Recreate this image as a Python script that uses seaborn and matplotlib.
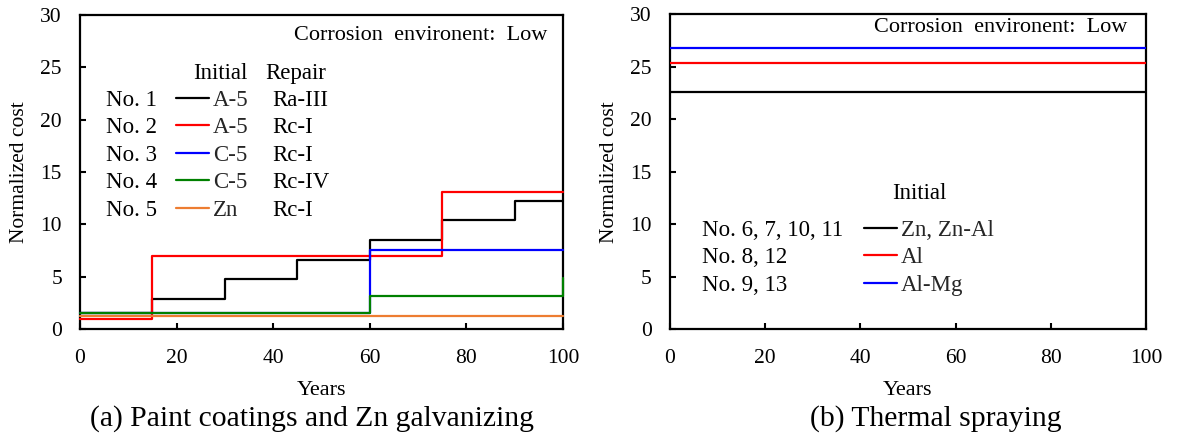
import numpy as np
import pandas as pd
import matplotlib
matplotlib.use("Agg")
import matplotlib.pyplot as plt
import seaborn as sns

# ---------------- data ----------------
# (a) Paint coatings and Zn galvanizing : step costs (value holds until next year)
a_cases = ["No. 1", "No. 2", "No. 3", "No. 4", "No. 5"]
a_initial = ["A-5", "A-5", "C-5", "C-5", "Zn"]
a_repair = ["Ra-III", "Rc-I", "Rc-I", "Rc-IV", "Rc-I"]
a_colors = ["black", "#ff0000", "#0000ff", "#008000", "#ed7d31"]

no1_years = [0, 15, 30, 45, 60, 75, 90, 100]
no1_cost = [1.5, 2.9, 4.75, 6.6, 8.55, 10.4, 12.25, 12.25]
no2_years = [0, 15, 75, 100]
no2_cost = [1.0, 7.0, 13.05, 13.05]
no3_years = [0, 60, 100]
no3_cost = [1.5, 7.55, 7.55]
no4_years = [0, 60, 100]
no4_cost = [1.5, 3.2, 4.9]
no5_years = [0, 100]
no5_cost = [1.2, 1.2]
a_years = [no1_years, no2_years, no3_years, no4_years, no5_years]
a_costs = [no1_cost, no2_cost, no3_cost, no4_cost, no5_cost]

# (b) Thermal spraying
b_cases = ["No. 6, 7, 10, 11", "No. 8, 12", "No. 9, 13"]
b_initial = ["Zn, Zn-Al", "Al", "Al-Mg"]
b_colors = ["black", "#ff0000", "#0000ff"]
b_years = [0, 100]
b_costs = [[22.6, 22.6], [25.3, 25.3], [26.75, 26.75]]

x_ticks = [0, 20, 40, 60, 80, 100]
y_ticks = [0, 5, 10, 15, 20, 25, 30]
env_label = "Corrosion  environent:  Low"

# ---------------- style ----------------
sns.set_theme(style="white")
plt.rcParams["font.family"] = ["Liberation Serif", "DejaVu Serif"]
plt.rcParams["axes.linewidth"] = 1.6
plt.rcParams["axes.edgecolor"] = "black"

fig = plt.figure(figsize=(11.77, 4.37), dpi=100)
axA = fig.add_axes([0.068, 0.2471, 0.4104, 0.7185])
axB = fig.add_axes([0.5692, 0.2465, 0.4044, 0.7215])

TICK_FS = 15.5
XLAB_FS = 16
YLAB_FS = 15.5
LEG_FS = 16.5
ENV_FS = 16
CAP_FS = 21.3

for ax in (axA, axB):
    ax.set_xlim(0, 100)
    ax.set_ylim(0, 30)
    ax.set_xticks(x_ticks)
    ax.set_yticks(y_ticks)
    ax.tick_params(axis="both", direction="in", length=4.5, width=1.5,
                   labelsize=TICK_FS, pad=13, colors="black",
                   top=False, right=False, bottom=True, left=True)
    ax.tick_params(axis="x", pad=14.5)
    for s in ax.spines.values():
        s.set_visible(True)
        s.set_color("black")
        s.set_linewidth(1.6)
    ax.set_facecolor("white")

# ---- panel (a)
handlesA = []
for yrs, cst, col, lab in zip(a_years, a_costs, a_colors, a_initial):
    df = pd.DataFrame({"Years": yrs, "cost": cst})
    sns.lineplot(data=df, x="Years", y="cost", ax=axA, color=col, lw=1.6,
                 drawstyle="steps-post", estimator=None, sort=False,
                 clip_on=False, zorder=3)
    handlesA.append(axA.lines[-1])

# ---- panel (b)
handlesB = []
for cst, col, lab in zip(b_costs, b_colors, b_initial):
    df = pd.DataFrame({"Years": b_years, "cost": cst})
    sns.lineplot(data=df, x="Years", y="cost", ax=axB, color=col, lw=1.6,
                 estimator=None, sort=False, zorder=3)
    handlesB.append(axB.lines[-1])

for ax in (axA, axB):
    if ax.get_legend() is not None:
        ax.get_legend().remove()
    ax.set_xlabel("Years", fontsize=XLAB_FS, color="black")
    ax.set_ylabel("Normalized cost", fontsize=YLAB_FS, color="black")
    ax.xaxis.set_label_coords(0.5, -0.165)
    ax.yaxis.set_label_coords(-0.126, 0.5)
    ax.yaxis.label.set_va("center")

legA = axA.legend(handlesA, a_initial, loc="upper left",
                  bbox_to_anchor=(0.199, 0.762), frameon=False, fontsize=LEG_FS,
                  handlelength=1.45, handletextpad=0.15, labelspacing=0.28,
                  borderpad=0, borderaxespad=0)
legB = axB.legend(handlesB, b_initial, loc="upper left",
                  bbox_to_anchor=(0.408, 0.347), frameon=False, fontsize=LEG_FS,
                  handlelength=1.45, handletextpad=0.15, labelspacing=0.28,
                  borderpad=0, borderaxespad=0)

axA.text(0.967, 0.936, env_label, transform=axA.transAxes, ha="right",
         va="center", fontsize=ENV_FS, color="black")
axB.text(0.960, 0.956, env_label, transform=axB.transAxes, ha="right",
         va="center", fontsize=ENV_FS, color="black")

axA.text(0.234, 0.815, "Initial", transform=axA.transAxes, ha="left",
         va="center", fontsize=LEG_FS, color="black")
axA.text(0.383, 0.815, "Repair", transform=axA.transAxes, ha="left",
         va="center", fontsize=LEG_FS, color="black")
axB.text(0.466, 0.432, "Initial", transform=axB.transAxes, ha="left",
         va="center", fontsize=LEG_FS, color="black")

# align row texts with legend rows
fig.canvas.draw()
renderer = fig.canvas.get_renderer()


def row_texts(ax, leg, left_labels, left_x, right_labels=None, right_x=None):
    inv = ax.transAxes.inverted()
    for i, t in enumerate(leg.get_texts()):
        bb = t.get_window_extent(renderer)
        _, y0 = inv.transform((bb.x0, bb.y0))
        ax.text(left_x, y0, left_labels[i], transform=ax.transAxes,
                ha="left", va="bottom", fontsize=LEG_FS, color="black")
        if right_labels is not None:
            ax.text(right_x, y0, right_labels[i], transform=ax.transAxes,
                    ha="left", va="bottom", fontsize=LEG_FS, color="black")


row_texts(axA, legA, a_cases, 0.054, a_repair, 0.397)
row_texts(axB, legB, b_cases, 0.067)

fig.text(0.265, 0.043, "(a) Paint coatings and Zn galvanizing", ha="center",
         va="center", fontsize=CAP_FS, color="black")
fig.text(0.795, 0.043, "(b) Thermal spraying", ha="center", va="center",
         fontsize=CAP_FS, color="black")

fig.savefig("out.png", dpi=100, facecolor="white")
